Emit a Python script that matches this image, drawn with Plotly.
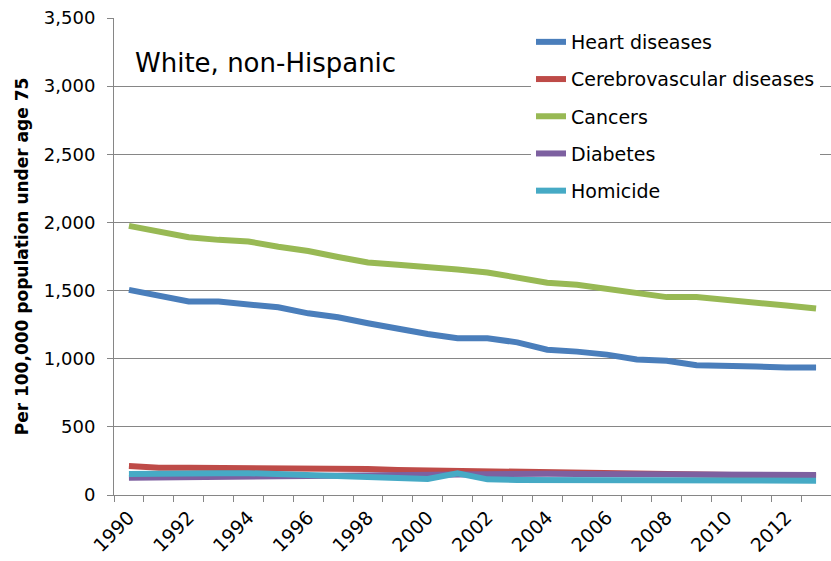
import plotly.graph_objects as go

# Premature deaths per 100,000 population under age 75, White non-Hispanic
years = list(range(1990, 2014))

heart = [1505, 1465, 1420, 1420, 1402, 1377, 1333, 1304, 1260, 1218, 1181, 1150,
         1150, 1120, 1066, 1052, 1030, 995, 985, 952, 950, 942, 935, 935]
cerebrovascular = [213, 200, 200, 200, 199, 198, 197, 196, 190, 184, 180, 177,
                   172, 167, 163, 160, 156, 152, 150, 147, 142, 140, 138, 137]
cancers = [1975, 1933, 1891, 1872, 1860, 1822, 1790, 1746, 1706, 1690, 1675, 1655,
           1633, 1600, 1558, 1542, 1515, 1485, 1452, 1452, 1428, 1405, 1390, 1368]
diabetes = [127, 127, 127, 130, 133, 137, 140, 143, 147, 150, 152, 155,
            157, 157, 156, 155, 153, 152, 151, 150, 147, 148, 148, 147]
homicide = [155, 160, 163, 160, 160, 152, 145, 140, 132, 125, 117, 160,
            115, 110, 110, 110, 110, 112, 113, 105, 103, 105, 110, 105]

series = [
    ("Heart diseases", heart, "#4a7ebb"),
    ("Cerebrovascular diseases", cerebrovascular, "#be4b48"),
    ("Cancers", cancers, "#98b954"),
    ("Diabetes", diabetes, "#7d60a0"),
    ("Homicide", homicide, "#46aac5"),
]

year_ticks = list(range(1990, 2013, 2))
y_ticks = list(range(0, 3501, 500))
y_tick_text = [f"{v:,}" for v in y_ticks]

FONT = "DejaVu Sans"
GREY = "#868686"

fig = go.Figure()
for i, (name, values, color) in enumerate(series):
    fig.add_trace(go.Scatter(
        x=years, y=values, name=name, mode="lines",
        line=dict(color=color, width=6),
        legendgroup=f"g{i}",
    ))

fig.update_layout(
    width=831, height=561,
    margin=dict(l=114, r=0, t=18, b=66),
    paper_bgcolor="white", plot_bgcolor="white",
    font=dict(family=FONT, color="black"),
    showlegend=True,
    legend=dict(
        x=0.5816, y=0.9895, xanchor="left", yanchor="top",
        font=dict(family=FONT, size=19, color="black"),
        bgcolor="white", borderwidth=0,
        tracegroupgap=9.5, traceorder="grouped",
        itemwidth=30,
    ),
    annotations=[dict(
        text="White, non-Hispanic", xref="paper", yref="paper",
        x=0.0265, y=0.9057, xanchor="left", yanchor="middle",
        showarrow=False, font=dict(family=FONT, size=26, color="black"),
    )],
)

fig.update_xaxes(
    range=[1989.5, 2013.5], automargin=False,
    tickmode="array", tickvals=year_ticks, ticktext=[str(y) for y in year_ticks],
    tickangle=-45, ticks="", ticklabelstandoff=3,
    tickfont=dict(family=FONT, size=19, color="black"),
    showgrid=False, zeroline=False,
    showline=True, linecolor=GREY, linewidth=1,
    minor=dict(ticks="outside", tick0=1989.5, dtick=1, ticklen=6,
               tickcolor=GREY, tickwidth=1, showgrid=False),
)

fig.update_yaxes(
    range=[0, 3500], automargin=False,
    tickmode="array", tickvals=y_ticks, ticktext=y_tick_text,
    ticks="outside", ticklen=6, tickcolor=GREY, tickwidth=1,
    ticklabelstandoff=8,
    tickfont=dict(family=FONT, size=18, color="black"),
    showgrid=True, gridcolor=GREY, gridwidth=1, zeroline=False,
    showline=True, linecolor=GREY, linewidth=1,
    title=dict(text="<b>Per 100,000 population under age 75</b>",
               font=dict(family=FONT, size=17, color="black"), standoff=10),
)

fig.write_html("out.html")
